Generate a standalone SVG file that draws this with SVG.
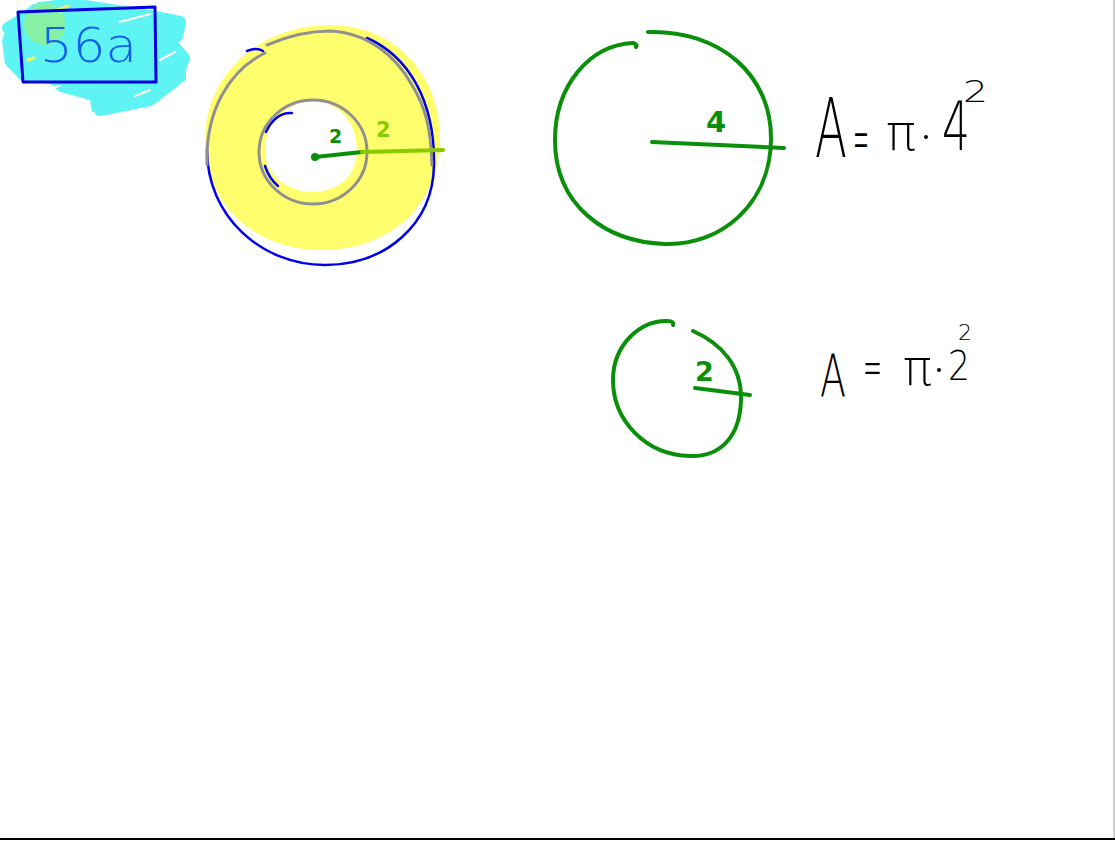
<svg xmlns="http://www.w3.org/2000/svg" width="1115" height="841" viewBox="0 0 1115 841">
<style>
.ink{fill:none;stroke-linecap:round;stroke-linejoin:round}
.g{stroke:#0a8f0a;stroke-width:4}
.hw{font-family:"DejaVu Sans","Liberation Sans",sans-serif;font-weight:200}
.lbl{font-family:"DejaVu Sans","Liberation Sans",sans-serif;font-weight:bold}
.blk{fill:#000}
</style>
<rect width="1115" height="841" fill="#fff"/>
<g id="label-56a">
<path d="M33,4 L75,1 L110,8 L165,14 L186,24 L182,40 L170,48 L186,58 L186,80 L165,92 L150,104 L110,114 L92,112 L90,100 L60,92 L50,84 L20,80 L5,64 L2,40 L8,24 Z" fill="#5ff4f4"/>
<polyline class="ink" stroke="#5ff4f4" stroke-width="12" points="8,28 40,8 72,4 150,16 180,22 170,42 184,58 176,80 150,100 100,110"/>
<path class="ink" d="M120,22 L150,14 M40,90 L60,86 M160,60 L175,52 M135,96 L150,90" stroke="#ffffff" stroke-width="2"/>
<circle cx="45" cy="24" r="21" fill="#86f0a4"/>
<path d="M58,10 L68,6 M28,60 L34,58" stroke="#f0f060" stroke-width="3" class="ink"/>
<path class="ink" d="M18,12 L155,7 L156,82 L23,82 Z" stroke="#0000e0" stroke-width="3"/>
<text class="hw" x="40" y="62" font-size="48" fill="#1060e8" textLength="97" lengthAdjust="spacingAndGlyphs">56a</text>
</g>
<g id="annulus">
<path d="M330,25 C395,25 440,75 440,138 C440,205 390,250 322,250 C255,250 205,205 205,140 C205,75 260,25 330,25 Z M313,101 C287,101 265,124 265,150 C265,174 287,192 313,192 C338,192 357,176 357,150 C357,124 339,101 313,101 Z" fill="#ffff6e" fill-rule="evenodd"/>
<path class="ink" d="M367,38 C408,56 435,100 434,165 C433,225 385,265 325,265 C260,265 207,215 207,150" stroke="#0000ee" stroke-width="2.5"/>
<path class="ink" d="M247,51 C252,49 258,48 263,51" stroke="#0000ee" stroke-width="2.5"/>
<path class="ink" d="M292,113 C281,112 271,120 266,132 M265,166 C268,175 272,181 278,186" stroke="#0000ee" stroke-width="2.5"/>
<path class="ink" d="M207,165 C205,110 230,70 265,53" stroke="#909090" stroke-width="3"/>
<path class="ink" d="M267,45 C290,35 310,31 330,31 C368,33 395,55 412,85 C426,108 431,130 432,165" stroke="#909090" stroke-width="3"/>
<ellipse class="ink" cx="313" cy="152" rx="54" ry="52" stroke="#909090" stroke-width="3"/>
<path class="ink" d="M315,157 L362,152" stroke="#0a8f0a" stroke-width="4"/>
<circle cx="315" cy="157" r="4" fill="#0a8f0a"/>
<path class="ink" d="M362,152 L443,150" stroke="#88cc00" stroke-width="4"/>
<text class="lbl" x="329" y="143" font-size="19" fill="#0a8f0a">2</text>
<text class="lbl" x="376" y="137" font-size="21" fill="#88cc00">2</text>
</g>
<g id="circle-r4">
<path class="ink g" d="M648,32 C720,30 772,75 771,140 C770,205 720,246 665,244 C605,242 555,205 555,140 C555,85 590,45 633,43 C637,44 637,46 636,47"/>
<path class="ink g" d="M652,142 L784,148"/>
<text class="lbl" x="706" y="132" font-size="29" fill="#0a8f0a">4</text>
</g>
<g id="formula-1" class="hw blk">
<text x="815" y="157" font-size="82" textLength="32" lengthAdjust="spacingAndGlyphs">A</text>
<text x="853" y="162" font-size="68" textLength="16" lengthAdjust="spacingAndGlyphs">=</text>
<text x="886" y="150" font-size="50" textLength="30" lengthAdjust="spacingAndGlyphs">π</text>
<circle cx="926" cy="137" r="2" fill="#000"/>
<text x="942" y="150" font-size="68" textLength="28" lengthAdjust="spacingAndGlyphs">4</text>
<text x="963" y="102" font-size="30" textLength="25" lengthAdjust="spacingAndGlyphs">2</text>
</g>
<g id="circle-r2">
<path class="ink g" d="M693,331 C720,343 742,365 741,400 C740,435 722,457 690,456 C645,455 613,420 613,380 C613,345 640,320 668,321 C672,321 674,323 673,325"/>
<path class="ink g" d="M695,388 L750,395"/>
<text class="lbl" x="695" y="381" font-size="27" fill="#0a8f0a">2</text>
</g>
<g id="formula-2" class="hw blk">
<text x="820" y="397" font-size="58" textLength="26" lengthAdjust="spacingAndGlyphs">A</text>
<text x="863" y="386" font-size="55" textLength="19" lengthAdjust="spacingAndGlyphs">=</text>
<text x="903" y="385" font-size="50" textLength="29" lengthAdjust="spacingAndGlyphs">π</text>
<circle cx="939" cy="370" r="2" fill="#000"/>
<text x="948" y="380" font-size="41" textLength="22" lengthAdjust="spacingAndGlyphs">2</text>
<text x="958" y="340" font-size="21" textLength="14" lengthAdjust="spacingAndGlyphs">2</text>
</g>
<g id="frame">
<line x1="1114" y1="0" x2="1114" y2="839" stroke="#a0a0a0" stroke-width="1"/>
<line x1="0" y1="839" x2="1115" y2="839" stroke="#000" stroke-width="2"/>
</g>
</svg>
